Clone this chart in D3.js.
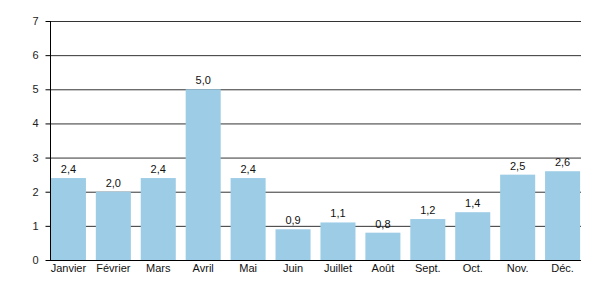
<!DOCTYPE html>
<html><head><meta charset="utf-8">
<script src="https://cdn.jsdelivr.net/npm/d3@7"></script>
<style>body{margin:0;background:#fff}text{font-family:"Liberation Sans",Arial,sans-serif}</style>
</head><body><svg id="c" width="600" height="300"></svg>
<script>
const months = ["Janvier","Février","Mars","Avril","Mai","Juin","Juillet","Août","Sept.","Oct.","Nov.","Déc."];
const values = [2.4,2.0,2.4,5.0,2.4,0.9,1.1,0.8,1.2,1.4,2.5,2.6];
const yTicks = [0,1,2,3,4,5,6,7];

const svg = d3.select("#c");
const x = d3.scaleBand().domain(months).range([50,581]).paddingInner(0.22).paddingOuter(0.02);
const y = d3.scaleLinear().domain([0,7]).range([260,21]);

// gridlines
svg.append("g").selectAll("line").data(yTicks.slice(1)).join("line")
  .attr("x1",50).attr("x2",581).attr("y1",d=>y(d)+0.5).attr("y2",d=>y(d)+0.5)
  .attr("stroke","#333").attr("stroke-width",1);

// bars
svg.append("g").selectAll("rect").data(values).join("rect")
  .attr("x",(d,i)=>x(months[i])).attr("width",x.bandwidth())
  .attr("y",d=>y(d)).attr("height",d=>y(0)-y(d))
  .attr("fill","#9dcde6");

// value labels
const fmt = d=>d.toFixed(1).replace(".",",");
svg.append("g").selectAll("text").data(values).join("text")
  .attr("x",(d,i)=>x(months[i])+x.bandwidth()/2).attr("y",d=>y(d)-5)
  .attr("text-anchor","middle").attr("font-size",11).attr("fill","#111")
  .text(fmt);

// y axis
const ya = svg.append("g").attr("transform","translate(50.5,0)")
  .call(d3.axisLeft(y).tickValues(yTicks).tickSize(5).tickFormat(d=>d));
ya.select(".domain").attr("stroke","#000").attr("d","M0,"+y(7)+"V"+(y(0)+0.5));
ya.selectAll(".tick line").attr("stroke","#000");
ya.selectAll("text").attr("font-size",11).attr("fill","#222").attr("x",-12).style("font-family","'Liberation Sans',Arial,sans-serif");

// x axis
const xa = svg.append("g").attr("transform","translate(0,260.5)")
  .call(d3.axisBottom(x).tickSize(0));
xa.select(".domain").attr("stroke","#000").attr("d","M50,0H581");
xa.selectAll("text").attr("font-size",11).attr("fill","#111").attr("dy","0.71em").attr("y",4).style("font-family","'Liberation Sans',Arial,sans-serif");
</script></body></html>
